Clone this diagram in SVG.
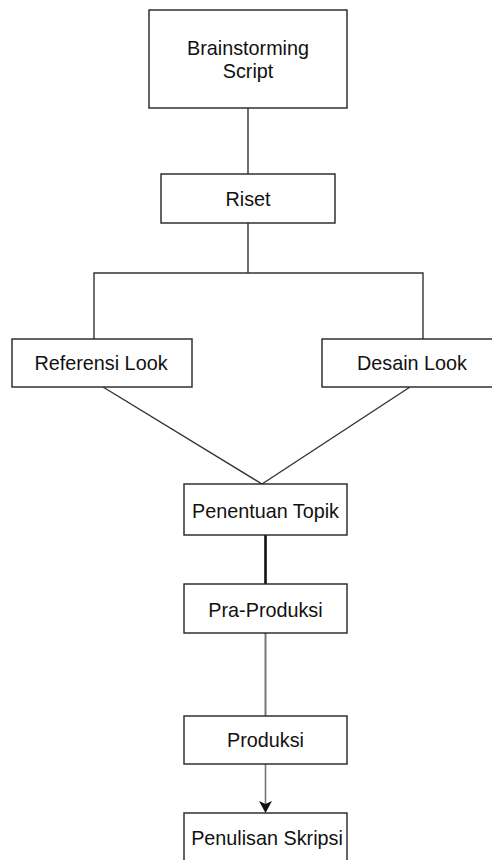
<svg xmlns="http://www.w3.org/2000/svg" width="492" height="860" viewBox="0 0 492 860">
<style>
.box{fill:#fff;stroke:#222;stroke-width:1.4}
.t{font-family:"Liberation Sans",Arial,sans-serif;font-size:19.8px;fill:#111;text-anchor:middle}
.c{fill:none;stroke:#333;stroke-width:1.4}
</style>
<defs>
<marker id="arr" viewBox="0 0 10 10" refX="10" refY="5" markerWidth="7" markerHeight="7" markerUnits="userSpaceOnUse" orient="auto">
<path d="M0,0 L10,5 L0,10 L3,5 Z" fill="#111"/>
</marker>
</defs>
<rect width="492" height="860" fill="#fff"/>
<g id="connectors">
<line class="c" x1="248" y1="108" x2="248" y2="174"/>
<polyline class="c" points="248,223 248,273"/>
<polyline class="c" points="94,339 94,273 423,273 423,339"/>
<line class="c" x1="103" y1="387" x2="262" y2="484"/>
<line class="c" x1="410" y1="387" x2="262" y2="484"/>
<line x1="265.5" y1="535" x2="265.5" y2="584" stroke="#111" stroke-width="2.6"/>
<line x1="265.5" y1="633" x2="265.5" y2="716" stroke="#777" stroke-width="2"/>
<line x1="265.5" y1="764" x2="265.5" y2="805" stroke="#777" stroke-width="1.6"/>
<path d="M259,801 L265.5,813 L272,801 L265.5,804 Z" fill="#111"/>
</g>
<g id="brainstorming"><rect class="box" x="149" y="10" width="198" height="98"/><text class="t" x="248" y="55">Brainstorming</text><text class="t" x="248" y="78">Script</text></g>
<g id="riset"><rect class="box" x="161" y="174" width="174" height="49"/><text class="t" x="248" y="206">Riset</text></g>
<g id="referensi"><rect class="box" x="12" y="339" width="180" height="48"/><text class="t" x="101" y="370">Referensi Look</text></g>
<g id="desain"><rect class="box" x="322" y="339" width="180" height="48"/><text class="t" x="412" y="370">Desain Look</text></g>
<g id="penentuan"><rect class="box" x="184" y="484" width="163" height="51"/><text class="t" x="265.5" y="518">Penentuan Topik</text></g>
<g id="praproduksi"><rect class="box" x="184" y="584" width="163" height="49"/><text class="t" x="265.5" y="617">Pra-Produksi</text></g>
<g id="produksi"><rect class="box" x="184" y="716" width="163" height="48"/><text class="t" x="265.5" y="747">Produksi</text></g>
<g id="penulisan"><rect class="box" x="184" y="813" width="163" height="49"/><text class="t" x="267" y="845">Penulisan Skripsi</text></g>
</svg>
